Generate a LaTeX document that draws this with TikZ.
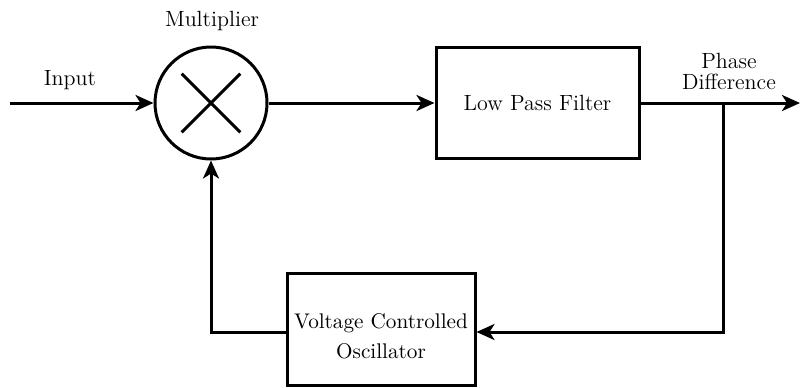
\documentclass[tikz,border=0pt]{standalone}
\usetikzlibrary{arrows.meta,calc}
\begin{document}
\begin{tikzpicture}[x=0.5pt,y=-0.5pt,
  wire/.style={line width=1.5pt},
  arr/.style={wire,-{Stealth[length=9pt,width=8pt,inset=2.5pt]}},
  blockbox/.style={draw,line width=1.5pt,rectangle,inner sep=0pt,align=center,font=\fontsize{11}{15}\selectfont},
  lbl/.style={font=\fontsize{11}{11}\selectfont,inner sep=0pt,align=center},
  boxtext/.style={font=\fontsize{10.6}{15}\selectfont,inner sep=0pt,align=center}]
\useasboundingbox (0,0) rectangle (801,387);
% nodes
\node[draw,circle,line width=1.5pt,minimum size=56pt,inner sep=0pt] (mult) at (211,103) {};
\node[blockbox,minimum width=101.5pt,minimum height=55.5pt] (lpf) at (537.5,103) {Low Pass Filter};
\node[blockbox,minimum width=94pt,minimum height=56pt] (vco) at (381,329) {};
\node[boxtext] (vcot) at (381,336) {Voltage Controlled\\Oscillator};
\coordinate (in) at (10,103);
\coordinate (out) at (800,103);
\coordinate (br) at (723,103);
\coordinate (brd) at (723,332);
\coordinate (fbl) at (211,332);
% labels
\node[lbl] (mlab) at (212,21) {Multiplier};
\node[lbl] (ilab) at (70,80) {Input};
\node[lbl] (plab) at (729,61) {Phase};
\node[lbl] (dlab) at (729,82) {Difference};
% cross in multiplier
\draw[wire] ($(mult.center)!0.72!(mult.135)$) -- ($(mult.center)!0.72!(mult.-45)$);
\draw[wire] ($(mult.center)!0.72!(mult.45)$) -- ($(mult.center)!0.72!(mult.-135)$);
% connectors
\draw[arr] (in) -- (mult.west);
\draw[arr] (mult.east) -- (lpf.west);
\draw[arr] (lpf.east) -- (out);
\draw[arr] (br) -- (brd) -- (vco.east |- brd);
\draw[arr] (vco.west |- fbl) -- (fbl) -- (mult.south);
\end{tikzpicture}
\end{document}
